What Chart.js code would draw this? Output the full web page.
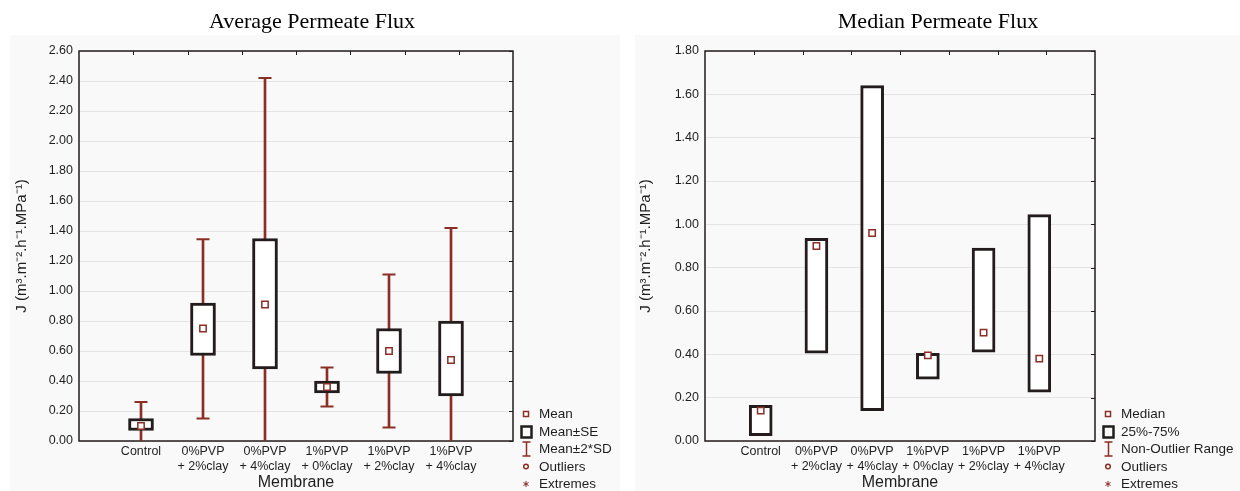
<!DOCTYPE html>
<html>
<head>
<meta charset="utf-8">
<script src="https://cdn.jsdelivr.net/npm/chart.js@4.4.1/dist/chart.umd.min.js"></script>
<style>
  body { margin: 0; background: #fff; }
  #wrap { display: flex; width: 1240px; height: 491px; }
  canvas { display: block; }
</style>
</head>
<body>
<div id="wrap">
  <canvas id="avgChart" width="620" height="491"></canvas>
  <canvas id="medChart" width="620" height="491"></canvas>
</div>
<script>
const membranes = ['Control', ['0%PVP', '+ 2%clay'], ['0%PVP', '+ 4%clay'], ['1%PVP', '+ 0%clay'], ['1%PVP', '+ 2%clay'], ['1%PVP', '+ 4%clay']];

// Average Permeate Flux
const meanValues = [0.10, 0.75, 0.91, 0.36, 0.60, 0.54];
const seLow = [0.07, 0.57, 0.48, 0.32, 0.45, 0.30];
const seHigh = [0.15, 0.92, 1.35, 0.40, 0.75, 0.80];
const sdLow = [-0.06, 0.15, -0.60, 0.23, 0.09, -0.34];
const sdHigh = [0.26, 1.345, 2.42, 0.49, 1.11, 1.42];

// Median Permeate Flux
const medianValues = [0.14, 0.90, 0.96, 0.395, 0.50, 0.38];
const q25 = [0.025, 0.405, 0.14, 0.285, 0.41, 0.225];
const q75 = [0.165, 0.935, 1.64, 0.405, 0.89, 1.045];

const avgLegend = ['Mean', 'Mean±SE', 'Mean±2*SD', 'Outliers', 'Extremes'];
const medLegend = ['Median', '25%-75%', 'Non-Outlier Range', 'Outliers', 'Extremes'];

const RED = '#8b2e24';
const BOX = '#231c1c';
const TXT = '#1e1e1e';
const SANS = 'Liberation Sans, Arial, sans-serif';

const pad = a => [null, ...a, null];
const pairs = (lo, hi) => lo.map((v, i) => [v, hi[i]]);

function drawSymbol(ctx, k, x, y) {
  ctx.save();
  if (k === 0) {
    ctx.fillStyle = '#fff'; ctx.strokeStyle = RED; ctx.lineWidth = 1.5;
    ctx.fillRect(x - 2.5, y - 2.5, 5, 5); ctx.strokeRect(x - 2.5, y - 2.5, 5, 5);
  } else if (k === 1) {
    ctx.strokeStyle = BOX; ctx.lineWidth = 2.5;
    ctx.strokeRect(x - 4.5, y - 5, 10, 11);
  } else if (k === 2) {
    ctx.strokeStyle = RED; ctx.lineWidth = 1.5;
    ctx.beginPath();
    ctx.moveTo(x + 0.5, y - 7); ctx.lineTo(x + 0.5, y + 7);
    ctx.moveTo(x - 3.5, y - 7); ctx.lineTo(x + 4.5, y - 7);
    ctx.moveTo(x - 3.5, y + 7); ctx.lineTo(x + 4.5, y + 7);
    ctx.stroke();
  } else if (k === 3) {
    ctx.strokeStyle = RED; ctx.lineWidth = 1.5;
    ctx.beginPath(); ctx.arc(x, y, 2.3, 0, Math.PI * 2); ctx.stroke();
  } else {
    ctx.strokeStyle = RED; ctx.lineWidth = 1;
    ctx.beginPath();
    for (let a = 0; a < 3; a++) {
      const t = a * Math.PI / 3 + Math.PI / 2;
      ctx.moveTo(x - 3 * Math.cos(t), y - 3 * Math.sin(t));
      ctx.lineTo(x + 3 * Math.cos(t), y + 3 * Math.sin(t));
    }
    ctx.stroke();
  }
  ctx.restore();
}

function decorPlugin(panelX, legendItems) {
  return {
    id: 'decor',
    beforeDraw(chart) {
      const ctx = chart.ctx;
      ctx.save();
      ctx.fillStyle = '#f9f9f9';
      ctx.fillRect(panelX, 35, chart.width - panelX, chart.height - 35);
      ctx.restore();
    },
    beforeDatasetsDraw(chart) {
      const {ctx, chartArea: a, scales} = chart;
      ctx.save();
      ctx.strokeStyle = BOX;
      ctx.lineWidth = 1.5;
      ctx.strokeRect(a.left, a.top, a.right - a.left, a.bottom - a.top);
      ctx.beginPath();
      for (let i = 1; i < 8; i++) {
        const x = Math.round(a.left + i * (a.right - a.left) / 8) + 0.5;
        ctx.moveTo(x, a.top); ctx.lineTo(x, a.top + 4);
      }
      scales.y.ticks.forEach(t => {
        const y = Math.round(scales.y.getPixelForValue(t.value)) + 0.5;
        ctx.moveTo(a.right - 4, y); ctx.lineTo(a.right, y);
      });
      ctx.lineWidth = 1;
      ctx.stroke();
      ctx.restore();
    },
    afterDraw(chart) {
      const {ctx, chartArea: a} = chart;
      ctx.save();
      ctx.font = '13.5px ' + SANS;
      ctx.fillStyle = TXT;
      ctx.textBaseline = 'middle';
      legendItems.forEach((label, i) => {
        const y = a.bottom - 27 + i * 17.5;
        drawSymbol(ctx, i, a.right + 13, y);
        ctx.fillText(label, a.right + 26, y + 0.5);
      });
      ctx.restore();
    }
  };
}

function makeChart(id, cfg) {
  const datasets = [];
  if (cfg.whiskerLow) {
    datasets.push({
      type: 'bar', data: pad(pairs(cfg.whiskerLow, cfg.whiskerHigh)),
      backgroundColor: RED, borderWidth: 0, barThickness: 2, grouped: false, clip: 0, order: 4
    });
    [cfg.whiskerLow, cfg.whiskerHigh].forEach(arr => datasets.push({
      type: 'line', data: pad(arr), showLine: false, pointStyle: 'line',
      pointRadius: 6.5, pointBorderColor: RED, pointBorderWidth: 2, clip: 0, order: 2
    }));
  }
  datasets.push({
    type: 'bar', data: pad(pairs(cfg.boxLow, cfg.boxHigh)),
    backgroundColor: '#ffffff', borderColor: BOX, borderWidth: 3, borderSkipped: false,
    barThickness: cfg.boxWidth, grouped: false, clip: 0, order: 3
  });
  datasets.push({
    type: 'line', data: pad(cfg.center), showLine: false, pointStyle: 'rect',
    pointRadius: 4.5, pointBackgroundColor: '#ffffff', pointBorderColor: RED, pointBorderWidth: 1.5,
    clip: 0, order: 1
  });

  return new Chart(document.getElementById(id), {
    type: 'bar',
    data: { labels: ['', ...membranes, ''], datasets },
    plugins: [decorPlugin(cfg.panelX, cfg.legend)],
    options: {
      responsive: false,
      animation: false,
      events: [],
      layout: { padding: { left: cfg.padLeft, right: 0, top: 0, bottom: 0 } },
      plugins: {
        legend: { display: false },
        tooltip: { enabled: false },
        title: {
          display: true, text: cfg.title, color: '#000',
          font: { family: 'Liberation Serif, Times New Roman, serif', size: 22, weight: 'normal', lineHeight: 1.2 },
          padding: { top: 9, bottom: 15.6 }
        }
      },
      scales: {
        x: {
          type: 'category', offset: false,
          grid: { display: false, drawTicks: false }, border: { display: false },
          ticks: { autoSkip: false, maxRotation: 0, padding: 3, color: TXT, font: { family: SANS, size: 12.5, lineHeight: 1.2 } },
          title: { display: true, text: 'Membrane', color: TXT, padding: 0, font: { family: SANS, size: 16, lineHeight: 1 } },
          afterFit: s => { s.height = 50; }
        },
        y: {
          min: 0, max: cfg.yMax,
          grid: { color: '#e4e4e4', lineWidth: 1, drawTicks: false }, border: { display: false },
          ticks: { stepSize: 0.2, padding: 6, color: TXT, font: { family: SANS, size: 12.5 }, callback: v => v.toFixed(2) },
          title: { display: true, text: 'J (m³.m⁻².h⁻¹.MPa⁻¹)', color: TXT, padding: { top: cfg.yTitlePad, bottom: 0 }, font: { family: SANS, size: 15, lineHeight: 1.2 } },
          afterFit: s => { s.width = cfg.plotLeft - cfg.padLeft; }
        },
        yRight: {
          position: 'right', display: true,
          grid: { display: false }, border: { display: false }, ticks: { display: false },
          afterFit: s => { s.width = cfg.rightSpace; }
        }
      }
    }
  });
}

makeChart('avgChart', {
  title: 'Average Permeate Flux', yMax: 2.6, legend: avgLegend,
  center: meanValues, boxLow: seLow, boxHigh: seHigh, whiskerLow: sdLow, whiskerHigh: sdHigh,
  boxWidth: 25, panelX: 10, padLeft: 4, plotLeft: 79, rightSpace: 107, yTitlePad: 9
});

makeChart('medChart', {
  title: 'Median Permeate Flux', yMax: 1.8, legend: medLegend,
  center: medianValues, boxLow: q25, boxHigh: q75,
  boxWidth: 23, panelX: 15, padLeft: 16, plotLeft: 85, rightSpace: 145, yTitlePad: 1
});
</script>
</body>
</html>
